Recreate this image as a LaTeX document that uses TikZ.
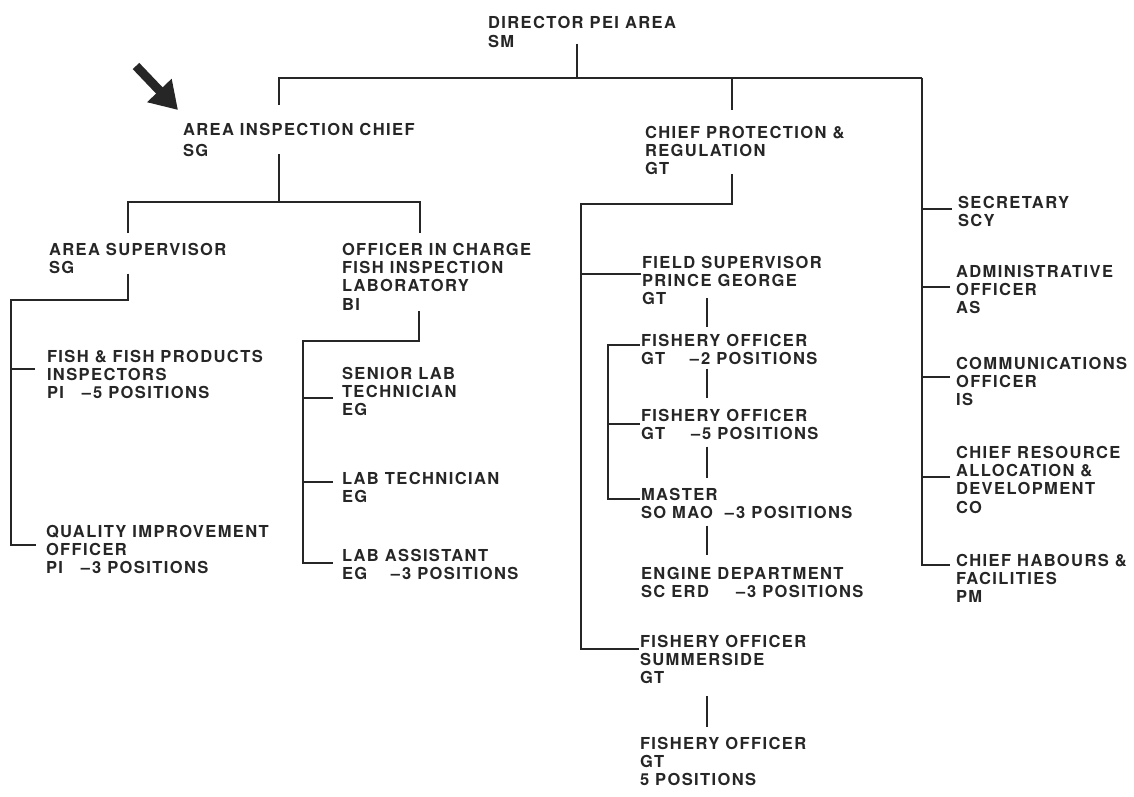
\documentclass[tikz,border=0pt]{standalone}
\usepackage{fontspec}
\setmainfont{TeX Gyre Heros}[LetterSpace=8.5]
\usetikzlibrary{calc,arrows.meta}

\definecolor{ink}{gray}{0.15}
\newcommand\grade[2]{\makebox[#1][l]{#2}}

\tikzset{
  post/.style={anchor=north west, inner sep=0pt, outer sep=0pt, align=left,
    text=ink, font=\fontsize{16.5}{18.3}\selectfont\bfseries},
  link/.style={draw=ink, line width=1.5pt},
}

\begin{document}
\begin{tikzpicture}[x=1pt, y=-1pt]
  \fill[white] (0,0) rectangle (1134,797);
  \useasboundingbox (0,0) rectangle (1134,797);

  % Posts
  \node[post] (dir)    at (488,16)  {DIRECTOR PEI AREA\\[1pt]SM};
  \node[post] (insp)   at (183,123) {AREA INSPECTION CHIEF\\[2.7pt]SG};
  \node[post] (prot)   at (645,126) {CHIEF PROTECTION \&\\REGULATION\\GT};
  \node[post] (sec)    at (958,196) {SECRETARY\\SCY};
  \node[post] (admin)  at (956,265) {ADMINISTRATIVE\\OFFICER\\AS};
  \node[post] (comm)   at (956,357) {COMMUNICATIONS\\OFFICER\\IS};
  \node[post] (res)    at (956,446) {CHIEF RESOURCE\\ALLOCATION \&\\DEVELOPMENT\\CO};
  \node[post] (harb)   at (956,554) {CHIEF HABOURS \&\\FACILITIES\\PM};

  % Inspection side
  \node[post] (sup)    at (49,243)  {AREA SUPERVISOR\\SG};
  \node[post] (lab)    at (342,243) {OFFICER IN CHARGE\\FISH INSPECTION\\LABORATORY\\BI};
  \node[post] (fish)   at (47,350)  {FISH \& FISH PRODUCTS\\INSPECTORS\\\grade{35pt}{PI}--\hspace{2pt}5 POSITIONS};
  \node[post] (qual)   at (46,525)  {QUALITY IMPROVEMENT\\OFFICER\\\grade{35pt}{PI}--\hspace{2pt}3 POSITIONS};
  \node[post] (senior) at (342,367) {SENIOR LAB\\TECHNICIAN\\EG};
  \node[post] (tech)   at (342,472) {LAB TECHNICIAN\\EG};
  \node[post] (assist) at (342,549) {LAB ASSISTANT\\\grade{49pt}{EG}--\hspace{2pt}3 POSITIONS};

  % Protection side
  \node[post] (field)  at (642,256) {FIELD SUPERVISOR\\PRINCE GEORGE\\GT};
  \node[post] (fotwo)  at (641,334) {FISHERY OFFICER\\\grade{49pt}{GT}--\hspace{2pt}2 POSITIONS};
  \node[post] (fofive) at (641,409) {FISHERY OFFICER\\\grade{50pt}{GT}--\hspace{2pt}5 POSITIONS};
  \node[post] (master) at (641,488) {MASTER\\\grade{84pt}{SO MAO}--\hspace{2pt}3 POSITIONS};
  \node[post] (engine) at (641,567) {ENGINE DEPARTMENT\\\grade{95pt}{SC ERD}--\hspace{2pt}3 POSITIONS};
  \node[post] (summer) at (640,635) {FISHERY OFFICER\\SUMMERSIDE\\GT};
  \node[post] (fobot)  at (640,737) {FISHERY OFFICER\\GT\\5 POSITIONS};

  % Junctions
  \coordinate (bar-l) at (279,78);
  \coordinate (bar-d) at (577,78);
  \coordinate (bar-m) at (732,78);
  \coordinate (bar-r) at (922,78);
  \coordinate (ib-m) at (279,202);
  \coordinate (ib-l) at (128,202);
  \coordinate (ib-r) at (420,202);
  \coordinate (sb) at (128,300);
  \coordinate (sb-l) at (11,300);
  \coordinate (lb) at (419,341);
  \coordinate (lb-l) at (303,341);
  \coordinate (pb) at (732,204);
  \coordinate (pb-l) at (581,204);
  \coordinate (fx) at (608,0);
  \coordinate (cx) at (707,0);

  % Top level
  \draw[link] ($(dir.south -| bar-d)+(0,-4)$) -- (bar-d);
  \draw[link] ($(insp.north -| bar-l)+(0,-18)$) -- (bar-l) -- (bar-r);
  \draw[link] ($(prot.north -| bar-m)+(0,-16)$) -- (bar-m);
  \draw[link] (bar-r) |- ($(harb.north west)+(-6,11)$);
  \foreach \n/\d in {sec/13, admin/22, comm/20, res/31}
    \draw[link] ($(\n.north west)+(-6,\d)$) coordinate (t) -- (t -| bar-r);

  % Inspection
  \draw[link] ($(insp.south -| ib-m)+(0,-2)$) -- (ib-m);
  \draw[link] ($(sup.north -| ib-l)+(0,-10)$) -- (ib-l) -- (ib-r)
    -- ($(lab.north -| ib-r)+(0,-10)$);
  \draw[link] (sup.south -| sb) -- (sb) -- (sb-l) |- ($(qual.north west)+(-10,20)$);
  \draw[link] ($(fish.north west)+(-12,19)$) coordinate (t) -- (t -| sb-l);
  \draw[link] ($(lab.south -| lb)+(0,1)$) -- (lb) -- (lb-l)
    |- ($(assist.north west)+(-9,14)$);
  \foreach \n/\d in {senior/31, tech/10}
    \draw[link] ($(\n.north west)+(-9,\d)$) coordinate (t) -- (t -| lb-l);

  % Protection
  \draw[link] ($(prot.south -| pb)+(0,-1)$) -- (pb) -- (pb-l)
    |- ($(summer.north west)+(-1,14)$);
  \draw[link] ($(field.north west)+(-1,18)$) coordinate (t) -- (t -| pb-l);
  \draw[link] ($(fotwo.north west)+(-1,11)$) coordinate (t) -- (t -| fx)
    |- ($(master.north west)+(-1,11)$);
  \draw[link] ($(fofive.north west)+(-1,15)$) coordinate (t) -- (t -| fx);
  \foreach \a/\b/\s/\e in {field/fotwo/-7/-7, fotwo/fofive/4/-11,
      fofive/master/7/-10, master/engine/7/-12, summer/fobot/12/-10}
    \draw[link] ($(\a.south -| cx)+(0,\s)$) -- ($(\b.north -| cx)+(0,\e)$);

  % Pointer
  \coordinate (ptr) at (136,66);
  \draw[ink, line width=9pt, -{Triangle[length=27pt, width=32pt]}]
    (ptr) -- ($(insp.north west)+(-5,-13)$);
\end{tikzpicture}
\end{document}
